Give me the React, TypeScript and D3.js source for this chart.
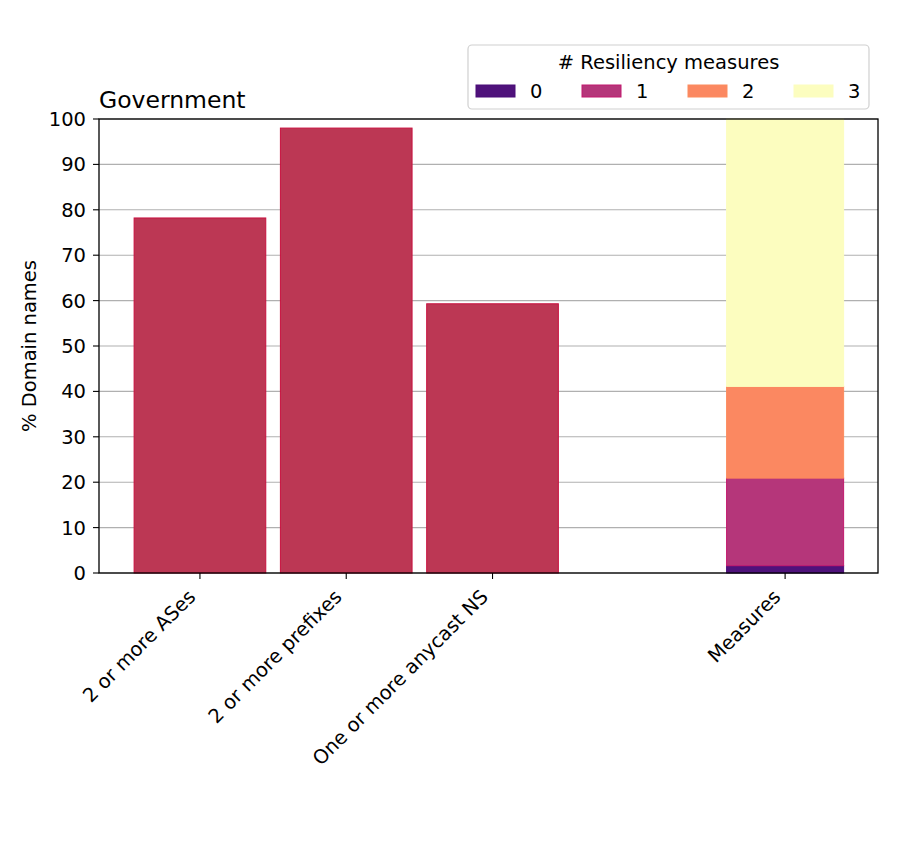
import React from "react";
import * as d3 from "d3";

const categories = ["2 or more ASes", "2 or more prefixes", "One or more anycast NS"];
const categoryPos = [0, 1, 2];
const values = [78.2, 98.0, 59.3];

const measuresLabel = "Measures";
const measuresPos = 4;
const measureKeys = ["0", "1", "2", "3"];
const measureValues = [1.6, 19.3, 20.2, 58.9];
const measureColors = ["#4f127b", "#b5367a", "#fb8861", "#fcfdbf"];
const measureEdges = ["#4a0c78", "#c2186e", "#fc8c5e", "#fcfdbf"];

const yTicks = [0, 10, 20, 30, 40, 50, 60, 70, 80, 90, 100];
const title = "Government";
const yLabel = "% Domain names";
const legendTitle = "# Resiliency measures";

const FONT = "DejaVu Sans, sans-serif";
const FS = 19.5;

export default function App() {
  const W = 900, H = 845;
  const left = 99, right = 878, top = 119, bottom = 573;
  const x = d3.scaleLinear().domain([-0.69, 4.635]).range([left, right]);
  const y = d3.scaleLinear().domain([0, 100]).range([bottom, top]);
  const unit = x(1) - x(0);

  const stack: { y0: number; y1: number; c: string; e: string }[] = [];
  let acc = 0;
  measureValues.forEach((v, i) => {
    stack.push({ y0: acc, y1: acc + v, c: measureColors[i], e: measureEdges[i] });
    acc += v;
  });

  const ticksX = [...categoryPos, measuresPos];
  const labelsX = [...categories, measuresLabel];

  return (
    <svg width={W} height={H} style={{ position: "absolute", left: 0, top: 0, background: "#fff" }} fontFamily={FONT}>
      <rect x={0} y={0} width={W} height={H} fill="#fff" />
      {/* grid */}
      {yTicks.map((t) => (
        <line key={"g" + t} x1={left} x2={right} y1={y(t)} y2={y(t)} stroke="#b0b0b0" strokeWidth={1.1} />
      ))}
      {/* bars */}
      {values.map((v, i) => (
        <rect
          key={"b" + i}
          x={x(categoryPos[i] - 0.45)}
          y={y(v)}
          width={unit * 0.9}
          height={y(0) - y(v)}
          fill="#bc3754"
          stroke="#c8103e"
          strokeWidth={1}
        />
      ))}
      {stack.map((s, i) => (
        <rect
          key={"s" + i}
          x={x(measuresPos - 0.4)}
          y={y(s.y1)}
          width={unit * 0.8}
          height={y(s.y0) - y(s.y1)}
          fill={s.c}
          stroke={s.e}
          strokeWidth={1}
        />
      ))}
      {/* frame */}
      <rect x={left} y={top} width={right - left} height={bottom - top} fill="none" stroke="#000" strokeWidth={1.3} />
      {/* y ticks */}
      {yTicks.map((t) => (
        <g key={"yt" + t}>
          <line x1={left - 6} x2={left} y1={y(t)} y2={y(t)} stroke="#000" strokeWidth={1.1} />
          <text x={left - 13} y={y(t)} dy="0.36em" textAnchor="end" fontSize={FS}>
            {t}
          </text>
        </g>
      ))}
      {/* x ticks */}
      {ticksX.map((p, i) => (
        <g key={"xt" + i}>
          <line x1={x(p)} x2={x(p)} y1={bottom} y2={bottom + 6} stroke="#000" strokeWidth={1.1} />
          <text
            transform={`translate(${x(p) - 3.3},${bottom + 25}) rotate(-45)`}
            textAnchor="end"
            fontSize={FS}
          >
            {labelsX[i]}
          </text>
        </g>
      ))}
      {/* y label */}
      <text transform={`translate(36,${(top + bottom) / 2}) rotate(-90)`} textAnchor="middle" fontSize={FS}>
        {yLabel}
      </text>
      {/* title */}
      <text x={left} y={108} fontSize={23.5}>
        {title}
      </text>
      {/* legend */}
      <g>
        <rect x={468} y={45} width={401} height={64} rx={4} fill="#fff" fillOpacity={0.8} stroke="#d0d0d0" strokeWidth={1.2} />
        <text x={668.5} y={69} textAnchor="middle" fontSize={FS}>
          {legendTitle}
        </text>
        {measureKeys.map((k, i) => (
          <g key={"l" + k} transform={`translate(${476 + i * 106},0)`}>
            <rect x={0} y={85} width={39} height={12} fill={measureColors[i]} stroke={measureEdges[i]} strokeWidth={1} />
            <text x={54} y={98} fontSize={FS}>
              {k}
            </text>
          </g>
        ))}
      </g>
    </svg>
  );
}
